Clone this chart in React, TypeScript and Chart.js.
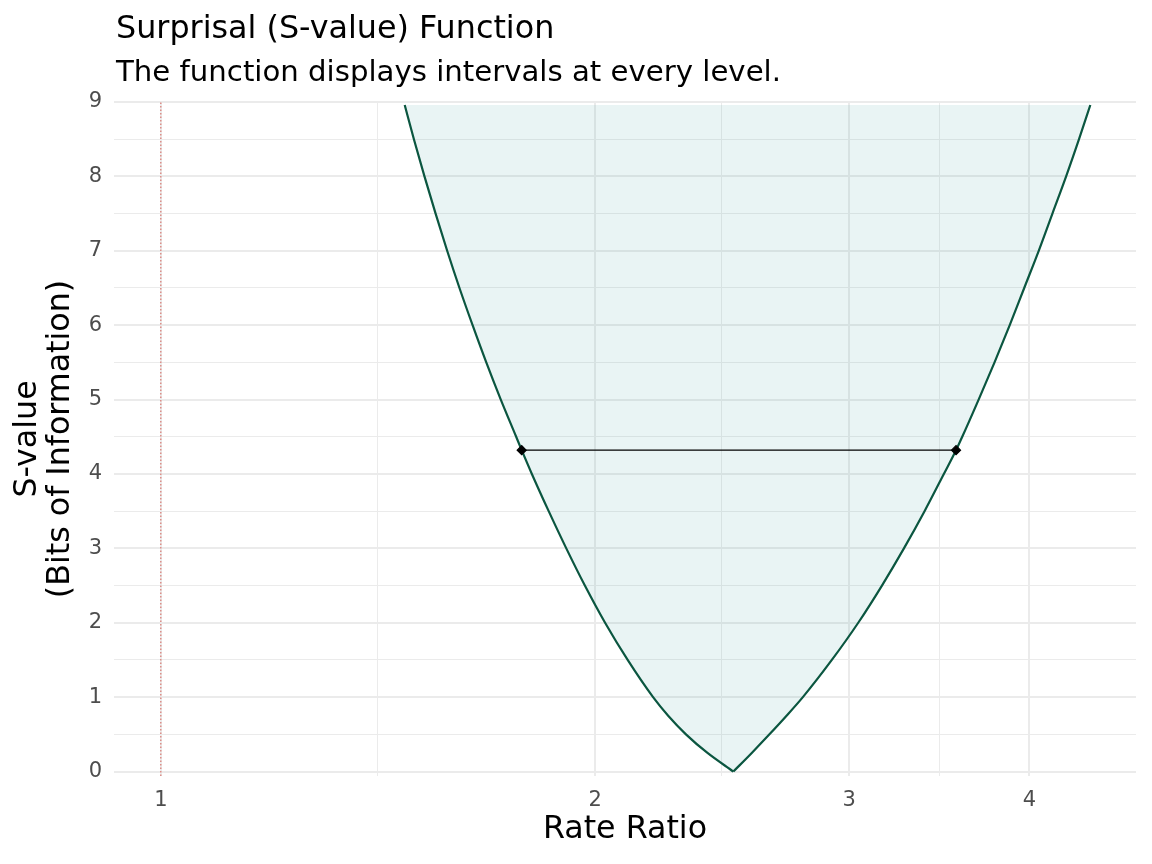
import React, { useEffect, useRef } from "react";
import { Chart, registerables } from "chart.js";

Chart.register(...registerables);

// ---- Data ----
const rateRatio = [
  1.4759, 1.4977, 1.5232, 1.5505, 1.5794, 1.6107, 1.6448, 1.6811, 1.7205,
  1.7633, 1.7789, 1.808, 1.8572, 1.9101, 1.9676, 2.0321, 2.1067, 2.1939,
  2.2474, 2.3121, 2.3929, 2.4938, 2.5682, 2.6417, 2.7148, 2.7864, 2.9183,
  3.0439, 3.1613, 3.2742, 3.3837, 3.4895, 3.5581, 3.5935, 3.6888, 3.7836,
  3.8765, 3.9672, 4.0601, 4.1499, 4.2416, 4.3298, 4.4086,
];
const sValue = [
  8.96, 8.5, 8, 7.5, 7, 6.5, 6, 5.5, 5, 4.5, 4.32, 4, 3.5, 3, 2.5, 2, 1.5, 1,
  0.75, 0.5, 0.25, 0, 0.25, 0.5, 0.75, 1, 1.5, 2, 2.5, 3, 3.5, 4, 4.32, 4.5, 5,
  5.5, 6, 6.5, 7, 7.5, 8, 8.5, 8.96,
];
const intervalBounds = [1.7789, 3.5581];
const intervalLevel = 4.32;
const nullValue = 1;
const fillTop = 8.96;

const xMajorTicks = [1, 2, 3, 4];
const xMinorTicks = [1.414, 2.449, 3.464];
const yMajorTicks = [0, 1, 2, 3, 4, 5, 6, 7, 8, 9];
const yMinorTicks = [0.5, 1.5, 2.5, 3.5, 4.5, 5.5, 6.5, 7.5, 8.5];
const xRange = [0.928, 4.742];
const yRange = [-0.06, 9];

const titleText = "Surprisal (S-value) Function";
const subtitleText = "The function displays intervals at every level.";
const xTitle = "Rate Ratio";
const yTitle = ["S-value", "(Bits of Information)"];

const FONT = "'DejaVu Sans', sans-serif";
const CURVE_COLOR = "#0b5640";

export default function App() {
  const canvasRef = useRef<HTMLCanvasElement | null>(null);

  useEffect(() => {
    document.body.style.margin = "0";
    const canvas = canvasRef.current;
    if (!canvas) return;

    const titlePlugin = {
      id: "ggTitles",
      afterDraw(chart: any) {
        const ctx = chart.ctx;
        ctx.save();
        ctx.fillStyle = "#000000";
        ctx.textAlign = "left";
        ctx.textBaseline = "alphabetic";
        ctx.font = `31.8px ${FONT}`;
        ctx.fillText(titleText, 116, 38);
        ctx.font = `29.2px ${FONT}`;
        ctx.fillText(subtitleText, 116, 81);
        ctx.restore();
      },
    };

    const allX = [...xMajorTicks, ...xMinorTicks].sort((a, b) => a - b);
    const allY = [...yMajorTicks, ...yMinorTicks].sort((a, b) => a - b);

    const points = rateRatio.map((x, i) => ({ x, y: sValue[i] }));
    let vertex = 0;
    sValue.forEach((s, i) => {
      if (s < sValue[vertex]) vertex = i;
    });
    const leftBranch = points.slice(0, vertex + 1);
    const rightBranch = points.slice(vertex);

    const branchStyle = {
      showLine: true,
      borderColor: CURVE_COLOR,
      borderWidth: 2.2,
      pointRadius: 0,
      fill: false,
      cubicInterpolationMode: "monotone" as const,
      order: 2,
    };

    const chart = new Chart(canvas, {
      type: "scatter",
      data: {
        datasets: [
          {
            label: "interval",
            data: intervalBounds.map((x) => ({ x, y: intervalLevel })),
            showLine: true,
            borderColor: "#000000",
            borderWidth: 1.2,
            pointStyle: "rectRot",
            pointRadius: 4.5,
            pointBackgroundColor: "#000000",
            pointBorderColor: "#000000",
            order: 1,
          },
          { label: "left", data: leftBranch, ...branchStyle },
          { label: "right", data: rightBranch, ...branchStyle },
          {
            label: "area",
            data: points,
            showLine: true,
            borderWidth: 0,
            borderColor: "rgba(0,0,0,0)",
            pointRadius: 0,
            fill: { value: fillTop },
            backgroundColor: "rgba(35, 150, 150, 0.1)",
            order: 3,
          },
          {
            label: "null",
            data: [
              { x: nullValue, y: yRange[0] },
              { x: nullValue, y: yRange[1] },
            ],
            showLine: true,
            borderColor: "rgba(210, 70, 60, 0.7)",
            borderWidth: 1.2,
            borderDash: [1.5, 2],
            pointRadius: 0,
            order: 4,
          },
        ],
      },
      options: {
        responsive: false,
        animation: false,
        devicePixelRatio: 1,
        layout: { padding: { top: 102, left: 0, right: 16, bottom: 0 } },
        plugins: {
          legend: { display: false },
          tooltip: { enabled: false },
          title: { display: false },
        },
        scales: {
          x: {
            type: "logarithmic",
            min: xRange[0],
            max: xRange[1],
            afterBuildTicks: (scale: any) => {
              scale.ticks = allX.map((v) => ({ value: v }));
            },
            afterFit: (scale: any) => {
              scale.height = 88;
            },
            ticks: {
              autoSkip: false,
              maxRotation: 0,
              padding: 12,
              color: "#4d4d4d",
              font: { family: FONT, size: 21 },
              callback: (value: any) =>
                xMajorTicks.includes(Number(value)) ? String(value) : "",
            },
            grid: {
              color: "#ebebeb",
              lineWidth: (c: any) =>
                xMajorTicks.includes(c.tick?.value) ? 2 : 1,
              drawTicks: false,
            },
            border: { display: false },
            title: {
              display: true,
              text: xTitle,
              color: "#000000",
              font: { family: FONT, size: 31.7, lineHeight: 1.05 },
              padding: { top: 0, bottom: 17.7 },
            },
          },
          y: {
            type: "linear",
            min: yRange[0],
            max: yRange[1],
            afterBuildTicks: (scale: any) => {
              scale.ticks = allY.map((v) => ({ value: v }));
            },
            afterFit: (scale: any) => {
              scale.width = 114;
            },
            ticks: {
              autoSkip: false,
              padding: 12,
              color: "#4d4d4d",
              font: { family: FONT, size: 21 },
              callback: (value: any) =>
                yMajorTicks.includes(Number(value)) ? String(value) : "",
            },
            grid: {
              color: "#ebebeb",
              lineWidth: (c: any) =>
                yMajorTicks.includes(c.tick?.value) ? 2 : 1,
              drawTicks: false,
            },
            border: { display: false },
            title: {
              display: true,
              text: yTitle,
              color: "#000000",
              font: { family: FONT, size: 31.7, lineHeight: 1.05 },
              padding: { top: 11, bottom: 0 },
            },
          },
        },
      },
      plugins: [titlePlugin],
    });

    return () => {
      chart.destroy();
    };
  }, []);

  return (
    <div style={{ width: 1152, height: 864, background: "#ffffff" }}>
      <canvas
        ref={canvasRef}
        width={1152}
        height={864}
        style={{ display: "block", width: 1152, height: 864 }}
      />
    </div>
  );
}
